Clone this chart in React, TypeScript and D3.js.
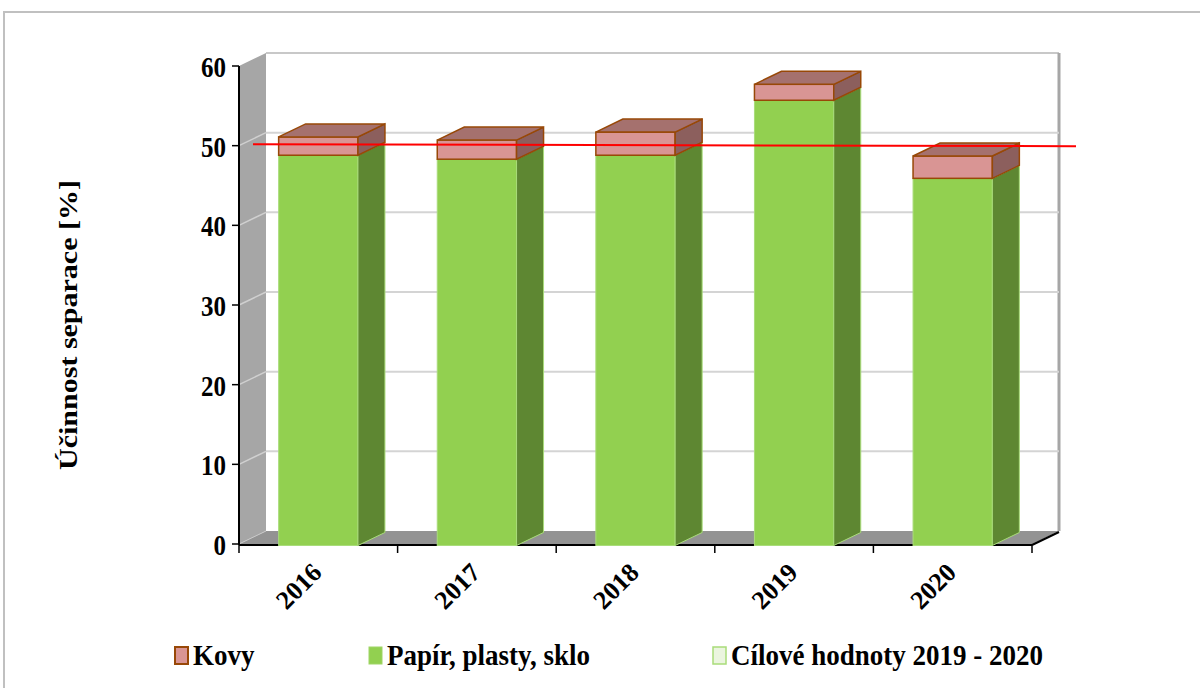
import React from "react";
import * as d3 from "d3";

const years = ["2016", "2017", "2018", "2019", "2020"];
const papir = [48.8, 48.3, 48.8, 55.7, 45.9];
const kovy = [2.3, 2.4, 2.9, 2.0, 2.8];
const target = 50;
const yTicks = [0, 10, 20, 30, 40, 50, 60];
const legendLabels = ["Kovy", "Papír, plasty, sklo", "Cílové hodnoty 2019 - 2020"];
const yTitle = "Účinnost separace [%]";

const FONT = "'Liberation Serif', 'Times New Roman', serif";

export default function App() {
  const left = 239, right = 1032, bottom = 544, top = 66;
  const dx = 27, dy = -13;
  const x = d3.scaleBand<string>().domain(years).range([left, right]).paddingInner(0.5).paddingOuter(0.25);
  const y = d3.scaleLinear().domain([0, 60]).range([bottom, top]);
  const bw = x.bandwidth();

  const poly = (pts: [number, number][]) => pts.map((p) => p.join(",")).join(" ");

  const legendX = [175, 369, 713];

  return (
    <svg width={1200} height={688} style={{ position: "absolute", left: 0, top: 0, background: "#fff" }} fontFamily={FONT}>
      {/* frame */}
      <rect x={4} y={12} width={1220} height={700} fill="#fff" stroke="#c0c0c0" strokeWidth={2} />

      {/* back wall */}
      <rect x={left + dx} y={top + dy} width={right - left} height={bottom - top} fill="#fff" />
      <line x1={left + dx} x2={right + dx} y1={top + dy} y2={top + dy} stroke="#c8c8c8" strokeWidth={2} />
      <line x1={right + dx} x2={right + dx} y1={top + dy} y2={bottom + dy} stroke="#a6a6a6" strokeWidth={3} />
      {yTicks.filter((t) => t > 0 && t < 60).map((t) => (
        <line key={"g" + t} x1={left + dx} x2={right + dx} y1={y(t) + dy} y2={y(t) + dy} stroke="#d4d4d4" strokeWidth={2} />
      ))}

      {/* left wall */}
      <polygon points={poly([[left, y(60)], [left + dx, y(60) + dy], [left + dx, bottom + dy], [left, bottom]])} fill="#a6a6a6" />
      {yTicks.filter((t) => t > 0 && t < 60).map((t) => (
        <line key={"w" + t} x1={left} x2={left + dx} y1={y(t)} y2={y(t) + dy} stroke="#d0d0d0" strokeWidth={1.5} />
      ))}

      {/* floor */}
      <polygon points={poly([[left, bottom], [left + dx, bottom + dy], [right + dx, bottom + dy], [right, bottom]])} fill="#939393" />
      <line x1={left} x2={left + dx} y1={bottom} y2={bottom + dy} stroke="#c8c8c8" strokeWidth={1} />

      {/* x axis line (under bars) */}
      <line x1={left} x2={right} y1={bottom + 1} y2={bottom + 1} stroke="#000" strokeWidth={2} />
      <line x1={right} x2={right + dx} y1={bottom + 1} y2={bottom + 1 + dy} stroke="#000" strokeWidth={2} />

      {/* bars */}
      {years.map((yr, i) => {
        const x0 = x(yr)!;
        const x1 = x0 + bw;
        const yG = y(papir[i]);
        const yT = y(papir[i] + kovy[i]);
        const y0 = y(0) + 1.5;
        return (
          <g key={yr}>
            <rect x={x0} y={yG} width={bw} height={y0 - yG} fill="#92d050" stroke="#a9dc7a" strokeWidth={1} />
            <polygon points={poly([[x1, yG], [x1 + dx, yG + dy], [x1 + dx, y0 + dy], [x1, y0]])} fill="#5e8732" stroke="#a9dc7a" strokeWidth={1} />
            <rect x={x0} y={yT} width={bw} height={yG - yT} fill="#d99594" stroke="#984807" strokeWidth={1.5} />
            <polygon points={poly([[x1, yT], [x1 + dx, yT + dy], [x1 + dx, yG + dy], [x1, yG]])} fill="#8c5f5d" stroke="#984807" strokeWidth={1.5} />
            <polygon points={poly([[x0, yT], [x0 + dx, yT + dy], [x1 + dx, yT + dy], [x1, yT]])} fill="#a5716e" stroke="#984807" strokeWidth={1.5} />
          </g>
        );
      })}

      {/* y axis */}
      <line x1={left} x2={left} y1={y(60)} y2={bottom + 1} stroke="#000" strokeWidth={2} />
      {yTicks.map((t) => (
        <g key={"t" + t}>
          <line x1={left - 7} x2={left} y1={y(t)} y2={y(t)} stroke="#000" strokeWidth={1.5} />
          <text transform={`translate(226, ${y(t) + 1}) scale(1, 1.15)`} dy="0.35em" textAnchor="end" fontSize={25} fontWeight="bold">{t}</text>
        </g>
      ))}
      {d3.range(years.length + 1).map((k) => {
        const xx = left + k * x.step();
        return <line key={"xt" + k} x1={xx} x2={xx} y1={bottom + 1} y2={bottom + 9} stroke="#000" strokeWidth={1.5} />;
      })}
      {years.map((yr) => {
        const cx = x(yr)! + bw / 2 + 5;
        const cy = 574;
        return (
          <text key={"xl" + yr} x={cx} y={cy} transform={`rotate(-45, ${cx}, ${cy})`} textAnchor="end" fontSize={26} fontWeight="bold">{yr}</text>
        );
      })}

      {/* target line */}
      <line x1={253} x2={1076} y1={y(target) - 1.5} y2={y(target) + 0.5} stroke="#ff0000" strokeWidth={2} />

      {/* y title */}
      <text transform="translate(77, 325) rotate(-90) scale(1.2, 1)" textAnchor="middle" fontSize={25} fontWeight="bold">{yTitle}</text>

      {/* legend */}
      <g fontSize={27} fontWeight="bold">
        <rect x={legendX[0]} y={647} width={13} height={17} fill="#d99594" stroke="#984807" strokeWidth={2} />
        <rect x={legendX[1]} y={647} width={13} height={17} fill="#92d050" stroke="#9fd566" strokeWidth={1} />
        <rect x={legendX[2]} y={647} width={13} height={17} fill="#ebf5df" stroke="#a9dc7a" strokeWidth={1.5} />
        {legendLabels.map((l, i) => (
          <text key={l} transform={`translate(${legendX[i] + 18}, 665) scale(1, 1.07)`}>{l}</text>
        ))}
      </g>
    </svg>
  );
}
